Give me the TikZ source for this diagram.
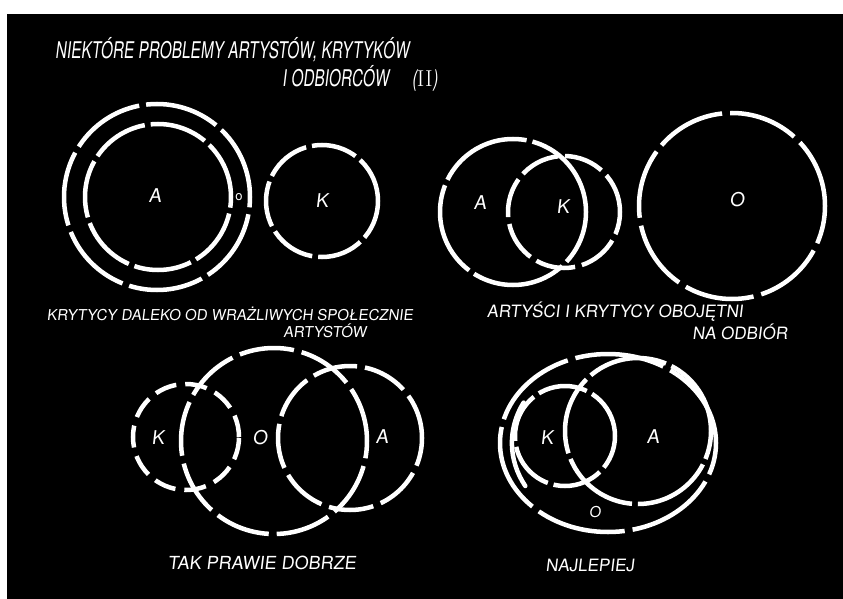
\documentclass[tikz,border=0pt]{standalone}
\usepackage{fontspec}
\setsansfont{TeX Gyre Heros}
\newfontfamily\handtitle[FakeStretch=0.67,FakeSlant=0.12]{TeX Gyre Heros}
\newfontfamily\handnote[FakeStretch=1.0,FakeSlant=0.12]{TeX Gyre Heros}
\usetikzlibrary{shapes.geometric,positioning}

\begin{document}
\begin{tikzpicture}[x=1pt, y=-1pt,
    ring/.style={circle, draw=white, line width=4.5pt, inner sep=0pt, dash pattern=on 62pt off 7pt},
    oval/.style={ellipse, draw=white, line width=4.5pt, inner sep=0pt, dash pattern=on 90pt off 8pt},
    stroke/.style={draw=white, line width=4.5pt, line cap=round},
    letter/.style={text=white, inner sep=0pt, font=\handnote\fontsize{19}{19}\selectfont},
    caption/.style={text=white, inner sep=0pt, font=\handnote\fontsize{15}{15}\selectfont},
    heading/.style={text=white, inner sep=0pt, font=\handtitle\fontsize{23}{28}\selectfont}
]
\useasboundingbox (0,0) rectangle (843,599);
\fill[white] (0,0) rectangle (843,599);
\fill[black] (7,14) rectangle (843,599);

% title
\node[heading, anchor=west] (title) at (55,50) {NIEKTÓRE PROBLEMY ARTYSTÓW, KRYTYKÓW};
\node[heading, anchor=west] (title2) at (282,78) {I ODBIORCÓW\quad({\rmfamily II})};

% top left: artists and critics apart
\node[ring, minimum size=186pt, dash pattern=on 75pt off 7pt] (artOut) at (157,197) {};
\node[ring, minimum size=146pt, dash pattern=on 58pt off 6pt] (artIn) at (158,197) {};
\node[ring, minimum size=112pt, dash pattern=on 46pt off 6pt] (critA) at (322,201) {};
\node[letter] (lblA1) at (155,196) {A};
\node[letter, font=\sffamily\fontsize{13}{13}\selectfont] (lblO1) at (239,197) {o};
\node[letter] (lblK1) at (322,201) {K};
\node[caption] (cap1) at (230,314) {KRYTYCY DALEKO OD WRAŻLIWYCH SPOŁECZNIE};
\node[caption] (cap1b) at (325,331) {ARTYSTÓW};

% top right: indifferent to the audience
\node[ring, minimum size=146pt, dash pattern=on 95pt off 6pt] (artB) at (513,212) {};
\node[ring, minimum size=112pt, dash pattern=on 40pt off 7pt] (critB) at (564,212) {};
\node[ring, minimum size=186pt, dash pattern=on 70pt off 8pt] (viewB) at (732,206) {};
\node[letter] (lblA2) at (480,203) {A};
\node[letter] (lblK2) at (563,207) {K};
\node[letter] (lblO2) at (737,200) {O};
\node[caption, font=\handnote\fontsize{17}{17}\selectfont] (cap2) at (615,312) {ARTYŚCI I KRYTYCY OBOJĘTNI};
\node[caption, font=\handnote\fontsize{17}{17}\selectfont] (cap2b) at (740,332) {NA ODBIÓR};

% bottom left: almost good
\node[ring, minimum size=106pt, dash pattern=on 22pt off 9pt] (critC) at (186,437) {};
\node[ring, minimum size=186pt, dash pattern=on 55pt off 8pt] (viewC) at (274,441) {};
\node[ring, minimum size=144pt, dash pattern=on 45pt off 8pt] (artC) at (350,438) {};
\node[letter] (lblK3) at (158,438) {K};
\node[letter] (lblO3) at (260,438) {O};
\node[letter] (lblA3) at (382,437) {A};
\node[caption, font=\handnote\fontsize{18}{18}\selectfont] (cap3) at (262,563) {TAK PRAWIE DOBRZE};

% bottom right: best
\node[oval, minimum width=216pt, minimum height=178pt] (viewD) at (608,443) {};
\draw[stroke] (525.3,486) arc[start angle=150, end angle=208, x radius=100, y radius=86];
\node[ring, minimum size=100pt, dash pattern=on 50pt off 6pt] (critD) at (565,436) {};
\node[ring, minimum size=146pt, dash pattern=on 80pt off 6pt] (artD) at (638,431) {};
\node[letter] (lblK4) at (547,438) {K};
\node[letter] (lblA4) at (653,437) {A};
\node[letter, font=\handnote\fontsize{15}{15}\selectfont] (lblO4) at (595,512) {O};
\node[caption, font=\handnote\fontsize{17}{17}\selectfont] (cap4) at (590,565) {NAJLEPIEJ};
\end{tikzpicture}
\end{document}
